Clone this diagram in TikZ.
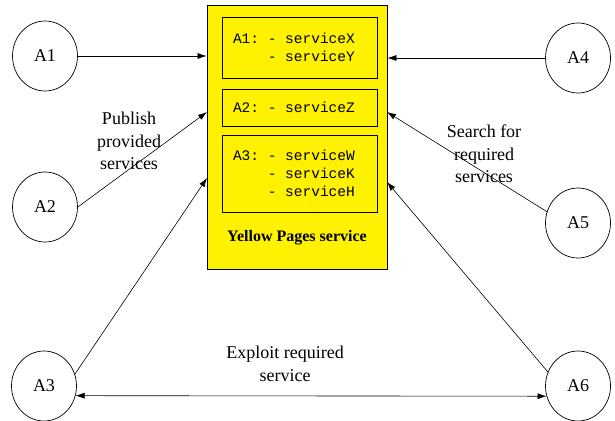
\documentclass[tikz,border=0pt]{standalone}
\usepackage{fontspec}
\setmainfont{Liberation Serif}
\newfontfamily\monof{Liberation Mono}
\usetikzlibrary{arrows.meta,shapes.geometric}
\newcommand\mspc{\hspace*{0.6em}}
\begin{document}
\begin{tikzpicture}[x=1pt,y=-1pt,
  agent/.style={ellipse,draw,line width=0.7pt,minimum width=65pt,minimum height=70pt,inner sep=0pt,font=\fontsize{18}{22}\selectfont},
  svcbox/.style={draw,line width=0.9pt,text width=133pt,inner xsep=11pt,inner ysep=0pt,align=left,font=\monof\fontsize{14.5}{18}\selectfont},
  lbl/.style={align=center,inner sep=0pt,font=\fontsize{18}{22.5}\selectfont},
  arr/.style={line width=0.6pt,-{Latex[length=9pt,width=6pt]}},
  darr/.style={line width=0.6pt,{Latex[length=9pt,width=6pt]}-{Latex[length=9pt,width=6pt]}}
]
\useasboundingbox (0,0) rectangle (615,420);
% yellow pages
\node[draw,line width=0.8pt,fill=yellow,minimum width=180pt,minimum height=264pt,inner sep=0pt] (yp) at (297,137) {};
\node[svcbox,minimum height=61pt] (b1) at (299.5,47.5) {A1:\mspc-\mspc serviceX\\\mspc\mspc\mspc\mspc-\mspc serviceY};
\node[svcbox,minimum height=37pt] (b2) at (299.5,107.5) {A2:\mspc-\mspc serviceZ};
\node[svcbox,minimum height=77pt] (b3) at (299.5,173.5) {A3:\mspc-\mspc serviceW\\\mspc\mspc\mspc\mspc-\mspc serviceK\\\mspc\mspc\mspc\mspc-\mspc serviceH};
\node[font=\bfseries\fontsize{16}{18}\selectfont] (ypl) at (297,238) {Yellow Pages service};
% agents
\node[agent] (a1) at (45,56) {A1};
\node[agent] (a2) at (45,207) {A2};
\node[agent] (a3) at (44,386) {A3};
\node[agent] (a4) at (578,58) {A4};
\node[agent] (a5) at (578,223) {A5};
\node[agent] (a6) at (578,386) {A6};
% anchor points on the yellow box
\coordinate (p2) at (207,112);
\coordinate (p3) at (207,178);
\coordinate (p5) at (387,112);
\coordinate (p6) at (387,182);
% connectors
\draw[arr] (a1.east) -- (yp.west |- a1);
\draw[arr] (a2.east) -- (p2);
\draw[arr] (a3.21) -- (p3);
\draw[arr] (a4.west) -- (yp.east |- a4);
\draw[arr] (a5.160) -- (p5);
\draw[arr] (a6.155) -- (p6);
\draw[darr] (a3.-17.5) -- (a6.-162.5);
% labels
\node[lbl] (lp) at (129,141) {Publish\\provided\\services};
\node[lbl] (ls) at (484,154) {Search for\\required\\services};
\node[lbl] (le) at (285,364) {Exploit required\\service};
\end{tikzpicture}
\end{document}
